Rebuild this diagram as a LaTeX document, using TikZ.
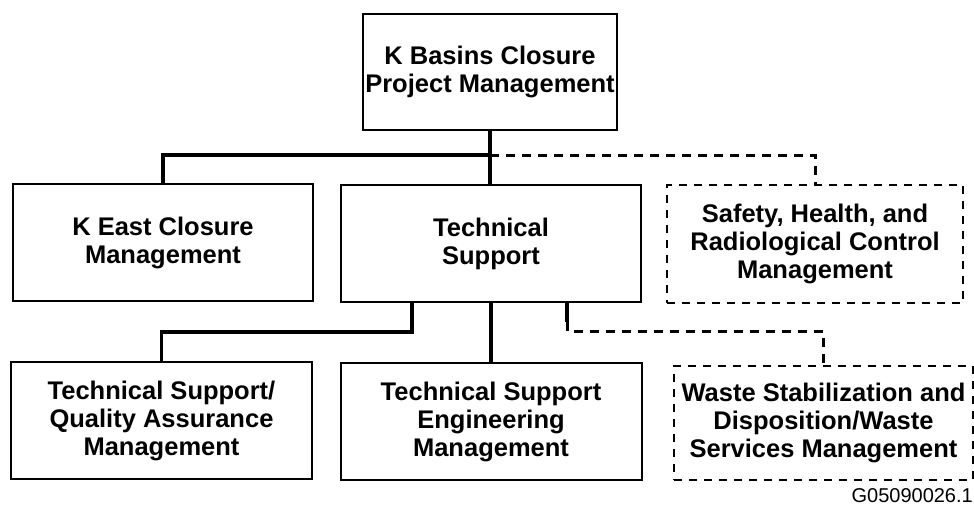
\documentclass[tikz,border=0pt]{standalone}
\usepackage{fontspec}
\setmainfont{Liberation Sans}
\begin{document}
\begin{tikzpicture}[x=1pt,y=-1pt,
  box/.style={draw=black,line width=2pt,rectangle,align=center,
    font=\fontsize{25.5}{28}\selectfont\bfseries,inner sep=0pt},
  dbox/.style={box,dash pattern=on 8pt off 7pt,line width=1.8pt},
  link/.style={draw=black,line width=3.5pt},
  dlink/.style={draw=black,line width=3pt,dash pattern=on 9pt off 7pt}]
\useasboundingbox (0,0) rectangle (974,506);

% boxes
\node[box,minimum width=254pt,minimum height=116pt] (top) at (490,72)
  {K Basins Closure\\Project Management};
\node[box,minimum width=300pt,minimum height=117pt] (keast) at (163,242.5)
  {K East Closure\\Management};
\node[box,minimum width=300pt,minimum height=117pt] (tech) at (491,243.5)
  {Technical\\Support};
\node[dbox,minimum width=296pt,minimum height=118pt] (safety) at (815,244)
  {Safety, Health, and\\Radiological Control\\Management};
\node[box,minimum width=301pt,minimum height=117pt] (tsqa) at (161.5,420.5)
  {Technical Support/\\Quality Assurance\\Management};
\node[box,minimum width=301pt,minimum height=117pt] (tseng) at (491,421.5)
  {Technical Support\\Engineering\\Management};
\node[dbox,minimum width=299pt,minimum height=114pt] (waste) at (823.5,423)
  {Waste Stabilization and\\Disposition/Waste\\Services Management};

\node[anchor=base east,font=\fontsize{20}{22}\selectfont,inner sep=0pt] (code)
  at (973,502) {G05090026.1};

% junction points
\coordinate (j1) at (490,155);
\coordinate (j2) at (412,332);
\coordinate (j3) at (567,331);
\coordinate (j3a) at (567,322);

% connectors
\draw[link] (top.south) -- (top.south |- tech.north);
\draw[link] (keast.north) |- (j1);
\draw[dlink] (j1) -| (safety.north);
\draw[link] (tech.south -| j2) -- (j2) -| (tsqa.north);
\draw[link] (tech.south -| tseng.north) -- (tseng.north);
\draw[link] (tech.south -| j3) -- (j3a);
\draw[dlink] (j3a) -- (j3) -| (waste.north);
\end{tikzpicture}
\end{document}
